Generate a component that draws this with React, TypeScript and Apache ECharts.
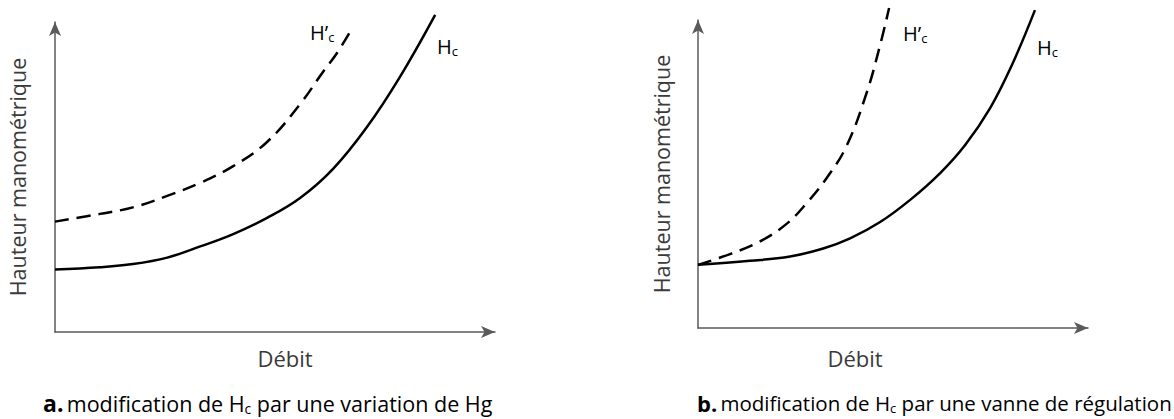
import React, { useEffect, useRef } from "react";
import * as echarts from "echarts";

// Data (x: débit in % of axis length, y: hauteur in % of axis length)
const hcA: [number, number][] = [
  [0, 20.2], [10.2, 20.9], [17.7, 21.9], [25.5, 24.0], [33.0, 27.6], [40.5, 31.6],
  [48.2, 36.8], [55.7, 43.2], [63.2, 52.6], [70.9, 66.1], [78.4, 82.3], [86.4, 102.3],
];
const hcPrimeA: [number, number][] = [
  [0, 35.6], [10.2, 38.1], [17.7, 40.2], [25.5, 43.9], [33.0, 48.1], [40.5, 53.5],
  [48.2, 61.3], [55.7, 73.5], [60.9, 83.9], [64.1, 90.0], [67.7, 98.4],
];
const hcB: [number, number][] = [
  [0, 20.5], [13.3, 21.8], [23.6, 23.2], [32.1, 25.8], [39.0, 29.1], [46.7, 34.4],
  [54.4, 41.6], [62.1, 50.3], [68.5, 59.4], [74.9, 71.4], [80.5, 85.4], [86.4, 103.2],
];
const hcPrimeB: [number, number][] = [
  [0, 20.5], [8.2, 24.0], [15.9, 28.1], [22.7, 33.8], [27.9, 40.6], [33.0, 48.7],
  [38.1, 59.1], [43.3, 76.6], [46.7, 91.9], [49.0, 103.9],
];
const xAxisName = "Débit";
const yAxisName = "Hauteur manométrique";
const captionA = ["a.", "modification de H", "c", " par une variation de Hg"];
const captionB = ["b.", "modification de H", "c", " par une vanne de régulation"];

const FONT = "'Open Sans', sans-serif";
const TXT = "#3a3a3a";
const AX = "#5a5a5a";

function makeRich(size: number) {
  return {
    n: { fontSize: size, fontFamily: FONT, color: TXT },
    s: { fontSize: Math.round(size * 0.65), fontFamily: FONT, color: TXT, padding: [10, 0, 0, 0] },
    cn: { fontSize: size, fontFamily: FONT, color: "#1a1a1a" },
    cs: { fontSize: Math.round(size * 0.65), fontFamily: FONT, color: "#1a1a1a", padding: [10, 0, 0, 0] },
    b: { fontSize: size + 1.5, fontFamily: FONT, color: "#111", fontWeight: "bold" },
  };
}
const richLabel = makeRich(20);
const richA = makeRich(21.5);
const richB = makeRich(20.5);

function axisX(grid: number, gap: number, pad: number[]) {
  return {
    type: "value", gridIndex: grid, min: 0, max: 100,
    axisLine: { show: true, symbol: ["none", "arrow"], symbolSize: [9, 14], lineStyle: { color: AX, width: 1.5 } },
    axisTick: { show: false }, axisLabel: { show: false }, splitLine: { show: false },
    name: xAxisName, nameLocation: "middle", nameGap: gap,
    nameTextStyle: { fontSize: 22, fontFamily: FONT, color: TXT, padding: pad },
  };
}
function axisY(grid: number, gap: number) {
  return {
    type: "value", gridIndex: grid, min: 0, max: 100,
    axisLine: { show: true, symbol: ["none", "arrow"], symbolSize: [9, 14], lineStyle: { color: AX, width: 1.5 } },
    axisTick: { show: false }, axisLabel: { show: false }, splitLine: { show: false },
    name: yAxisName, nameLocation: "middle", nameGap: gap,
    nameTextStyle: { fontSize: 21.5, fontFamily: FONT, color: TXT },
  };
}
function line(data: [number, number][], idx: number, dashed: boolean) {
  return {
    type: "line", xAxisIndex: idx, yAxisIndex: idx, data, smooth: 0.4,
    showSymbol: false, clip: false, silent: true,
    lineStyle: { color: "#000", width: 2.5, type: dashed ? [14, 8] : "solid" },
  };
}

export default function App() {
  const ref = useRef<HTMLDivElement>(null);
  useEffect(() => {
    const chart = echarts.init(ref.current!, null, { renderer: "svg" });
    chart.setOption({
      animation: false,
      backgroundColor: "#fff",
      grid: [
        { left: 55, top: 22, width: 440, height: 310 },
        { left: 698, top: 20, width: 390, height: 308 },
      ],
      xAxis: [axisX(0, 15, [0, 0, 0, 20]), axisX(1, 19, [0, 76, 0, 0])],
      yAxis: [axisY(0, 27), axisY(1, 26)],
      series: [
        line(hcA, 0, false), line(hcPrimeA, 0, true),
        line(hcB, 1, false), line(hcPrimeB, 1, true),
      ],
      graphic: [
        { type: "text", x: 310, y: 32, style: { text: "{n|H’}{s|c}", rich: richLabel, verticalAlign: "middle" } },
        { type: "text", x: 437, y: 46, style: { text: "{n|H}{s|c}", rich: richLabel, verticalAlign: "middle" } },
        { type: "text", x: 903, y: 33, style: { text: "{n|H’}{s|c}", rich: richLabel, verticalAlign: "middle" } },
        { type: "text", x: 1037, y: 47, style: { text: "{n|H}{s|c}", rich: richLabel, verticalAlign: "middle" } },
        { type: "text", x: 43, y: 403, style: { text: `{b|${captionA[0]}} {cn|${captionA[1]}}{cs|${captionA[2]}}{cn|${captionA[3]}}`, rich: richA, verticalAlign: "middle" } },
        { type: "text", x: 697, y: 403, style: { text: `{b|${captionB[0]}} {cn|${captionB[1]}}{cs|${captionB[2]}}{cn|${captionB[3]}}`, rich: richB, verticalAlign: "middle" } },
      ],
    });
    return () => chart.dispose();
  }, []);
  return <div ref={ref} style={{ position: "fixed", left: 0, top: 0, width: 1174, height: 419 }} />;
}
